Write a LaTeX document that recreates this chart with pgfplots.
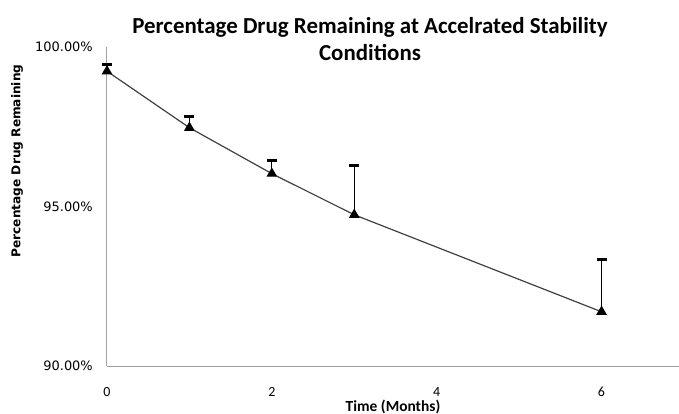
\documentclass[border=0pt]{standalone}
\usepackage{fontspec}
\setmainfont{Carlito}
\newfontfamily\dejavu{DejaVu Sans}
\usepackage{pgfplots}
\pgfplotsset{compat=1.18}
\definecolor{axisgray}{RGB}{160,160,160}
\definecolor{linegray}{RGB}{64,64,64}
\begin{document}
\begin{tikzpicture}
\path[use as bounding box] (-107bp,-48bp) rectangle (572bp,366bp);
\begin{axis}[
  scale only axis, width=572bp, height=319bp,
  at={(0,0)}, anchor=south west,
  xmin=0, xmax=6.94, ymin=90, ymax=100,
  axis x line*=bottom, axis y line*=left,
  axis line style={draw=axisgray, line width=1bp, -},
  xtick={0,2,4,6}, ytick={90,95,100},
  yticklabels={90.00\%,95.00\%,100.00\%},
  /pgf/number format/assume math mode=true,
  major tick length=0pt,
  y tick label style={font=\dejavu\fontsize{13}{15}\selectfont, inner sep=0pt, anchor=east, xshift=-14bp},
  x tick label style={font=\fontsize{14}{16}\selectfont, inner sep=0pt, anchor=center, yshift=-26bp},
  clip=false,
]
\addplot[color=linegray, line width=1.2bp, mark=triangle*, mark size=5bp,
  mark options={fill=black, draw=black, solid},
  error bars/.cd, y dir=plus, y explicit,
  error mark=|,
  error bar style={line width=1.2bp, black},
  error mark options={line width=3bp, mark size=5bp, black}]
  table[x=x, y=y, y error=e] {
x y e
0 99.24 0.21
1 97.47 0.34
2 96.03 0.41
3 94.74 1.54
6 91.70 1.65
};
\end{axis}
\node[font=\bfseries\fontsize{23}{28}\selectfont, align=center] at (263bp,327bp)
  {Percentage Drug Remaining at Accelrated Stability\\Conditions};
\node[font=\bfseries\fontsize{15.5}{18}\selectfont] at (286bp,-41bp) {Time (Months)};
\node[font=\dejavu\bfseries\fontsize{12.2}{14}\selectfont, rotate=90] at (-90bp,205bp) {Percentage Drug Remaining};
\end{tikzpicture}
\end{document}
